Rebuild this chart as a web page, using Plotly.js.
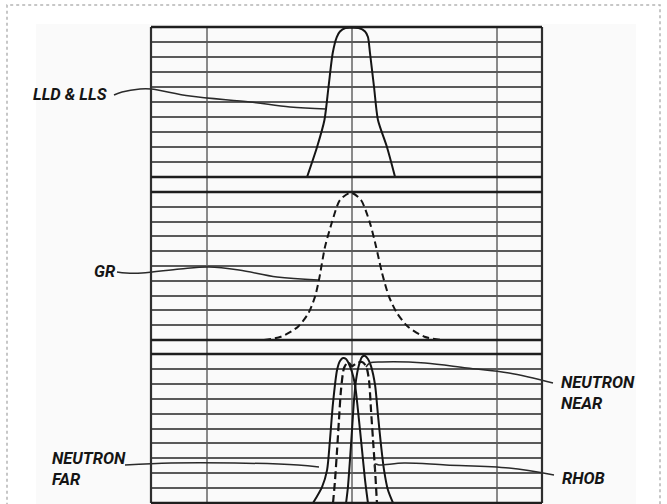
<!DOCTYPE html>
<html><head><meta charset="utf-8">
<script src="https://cdn.plot.ly/plotly-3.0.1.min.js"></script>
<style>html,body{margin:0;padding:0;background:#fff}</style>
</head><body>
<div id="chart" style="width:667px;height:504px"></div>
<script>
// ---- data (x in chart units: vertical grid lines at -10, 0, 10; y in grid divisions 0..10) ----
const gridX = [-10, 0, 10];
const panelTicks = [0,1,2,3,4,5,6,7,8,9,10];

const lldX = [-3.10,-2.41,-1.90,-1.62,-1.33,-1.05,-0.83,-0.45,0.0,0.45,0.90,1.10,1.24,1.52,1.79,2.41,2.97];
const lldY = [0,2,3.8,6,8.27,9.33,9.7,9.93,9.95,9.93,9.7,9.33,8.27,6,3.8,2,0];

const grX = [-6.07,-4.90,-3.72,-3.0,-2.55,-2.28,-1.86,-1.4,-0.83,-0.07,0.62,1.24,1.66,2.07,2.55,3.1,3.86,5.0,6.17];
const grY = [0,0.22,0.9,1.82,2.93,4.05,6.3,7.9,9.46,9.95,9.46,7.9,6.3,4.53,2.93,1.82,0.9,0.22,0];

const farX = [-2.69,-2.07,-1.72,-1.52,-1.31,-1.03,-0.83,-0.62,-0.41,-0.21,0,0.21,0.41,0.69,0.9,1.1];
const farY = [0,1.07,2.21,4.23,6.71,8.93,9.53,9.73,9.66,9.33,8.79,7.92,6.24,3.56,1.54,0];

const nearX = [-0.41,-0.28,-0.14,0,0.14,0.28,0.48,0.69,0.9,1.1,1.31,1.59,1.79,2.0,2.21,2.48,2.83];
const nearY = [0,1.07,2.89,4.9,6.91,8.26,9.26,9.8,9.87,9.66,9.19,7.92,5.91,3.89,2.21,0.87,0];

const rhobX = [-1.31,-1.17,-1.03,-0.9,-0.76,-0.55,-0.28,0,0.34,0.69,0.97,1.17,1.31,1.45,1.59,1.72];
const rhobY = [0,1.54,3.56,5.57,7.58,9.06,9.46,9.19,9.4,9.46,9.19,8.26,6.24,4.23,2.21,0];

const labelTexts = ['LLD & LLS', 'GR', 'NEUTRON<br>NEAR', 'NEUTRON<br>FAR', 'RHOB'];

// ---- decoration geometry (pixel space of the 667x504 canvas) ----
const labelPos = [[31,94],[92,271],[559,393],[50,469],[560,478]];
const leaders = [
  [[114,95],[122,92],[140,89],[151,89],[190,96],[250,102],[290,107],[326,109]],
  [[117,272],[126,273],[142,273],[180,269],[209,267],[239,270],[277,277],[318,280]],
  [[553,383],[509,373],[467,368],[425,363],[382,362],[370,363],[366,367]],
  [[125,465],[171,463],[235,463],[298,465],[319,467]],
  [[554,475],[509,468],[446,465],[404,463],[379,465],[375,464],[375,470]]
];

const W = 667, H = 504;
const xDom = [151/W, 542/W];
const yDoms = [[(H-177)/H,(H-27)/H],[(H-340)/H,(H-192)/H],[(H-503)/H,(H-354)/H]];
const xRange = [(151-352)/14.5, (542-352)/14.5];

const ink = '#151515';
const traces = [
  {x: lldX, y: lldY, xaxis:'x', yaxis:'y', mode:'lines', line:{color:ink, width:2, shape:'spline', smoothing:0.7}},
  {x: grX, y: grY, xaxis:'x', yaxis:'y2', mode:'lines', line:{color:ink, width:2, dash:'7px,4px', shape:'spline', smoothing:0.7}},
  {x: farX, y: farY, xaxis:'x', yaxis:'y3', mode:'lines', line:{color:ink, width:2, shape:'spline', smoothing:0.7}},
  {x: nearX, y: nearY, xaxis:'x', yaxis:'y3', mode:'lines', line:{color:ink, width:2, shape:'spline', smoothing:0.7}},
  {x: rhobX, y: rhobY, xaxis:'x', yaxis:'y3', mode:'lines', line:{color:ink, width:2.2, dash:'8px,4px', shape:'spline', smoothing:0.7}}
];
leaders.forEach(pts => traces.push({
  x: pts.map(p=>p[0]), y: pts.map(p=>p[1]), xaxis:'x4', yaxis:'y4', mode:'lines',
  line:{color:'#2a2a2a', width:1.5, shape:'spline', smoothing:1}
}));
traces.forEach(t => { t.hoverinfo = 'skip'; t.showlegend = false; });

const yAx = dom => ({domain: dom, range:[0,10], tickvals: panelTicks, showticklabels:false, ticks:'',
  showgrid:true, gridcolor:'#5a5a5a', gridwidth:2, zeroline:false, showline:false, anchor:'x', fixedrange:true});

const shapes = [];
shapes.push({type:'rect', xref:'paper', yref:'paper', x0:36/W, x1:636/W, y0:0, y1:(H-24)/H,
  fillcolor:'#fafafa', line:{width:0}, layer:'below'});
shapes.push({type:'rect', xref:'paper', yref:'paper', x0:7/W, x1:660/W, y0:-0.05, y1:(H-5)/H,
  fillcolor:'rgba(0,0,0,0)', line:{color:'#b5b5b5', width:1.5, dash:'dot'}, layer:'above'});
gridX.forEach(v => shapes.push({type:'line', xref:'x', yref:'paper', x0:v, x1:v, y0:yDoms[2][0], y1:yDoms[0][1],
  line:{color:'#6e6e6e', width:1.6}, layer:'below'}));
[0,1].forEach(v => shapes.push({type:'line', xref:'x domain', yref:'paper', x0:v, x1:v, y0:yDoms[2][0], y1:yDoms[0][1],
  line:{color:'#2e2e2e', width:2.2}}));
['y','y2','y3'].forEach(ax => [0,1].forEach(v => shapes.push({type:'line', xref:'x domain', yref: ax+' domain',
  x0:0, x1:1, y0:v, y1:v, line:{color:'#1e1e1e', width:2.6}})));

const annFont = {family:'Roboto, Liberation Sans, sans-serif', size:16.5, color:'#151515', weight:'bold', style:'italic'};
const annotations = labelTexts.map((t,i) => ({text:t, x:labelPos[i][0], y:labelPos[i][1], xref:'x4', yref:'y4',
  showarrow:false, xanchor:'left', yanchor:'middle', align:'left', font:annFont}));

const layout = {
  width: W, height: H, margin:{l:0,r:0,t:0,b:0},
  paper_bgcolor:'#ffffff', plot_bgcolor:'rgba(0,0,0,0)', showlegend:false,
  xaxis:{domain:xDom, range:xRange, showgrid:false, zeroline:false, showticklabels:false, ticks:'', anchor:'y3', fixedrange:true},
  yaxis: yAx(yDoms[0]), yaxis2: yAx(yDoms[1]), yaxis3: yAx(yDoms[2]),
  xaxis4:{domain:[0,1], range:[0,W], visible:false, anchor:'y4', fixedrange:true},
  yaxis4:{domain:[0,1], range:[H,0], visible:false, anchor:'x4', fixedrange:true},
  shapes: shapes, annotations: annotations
};
Plotly.newPlot('chart', traces, layout, {staticPlot:true, displayModeBar:false});
</script>
</body></html>
